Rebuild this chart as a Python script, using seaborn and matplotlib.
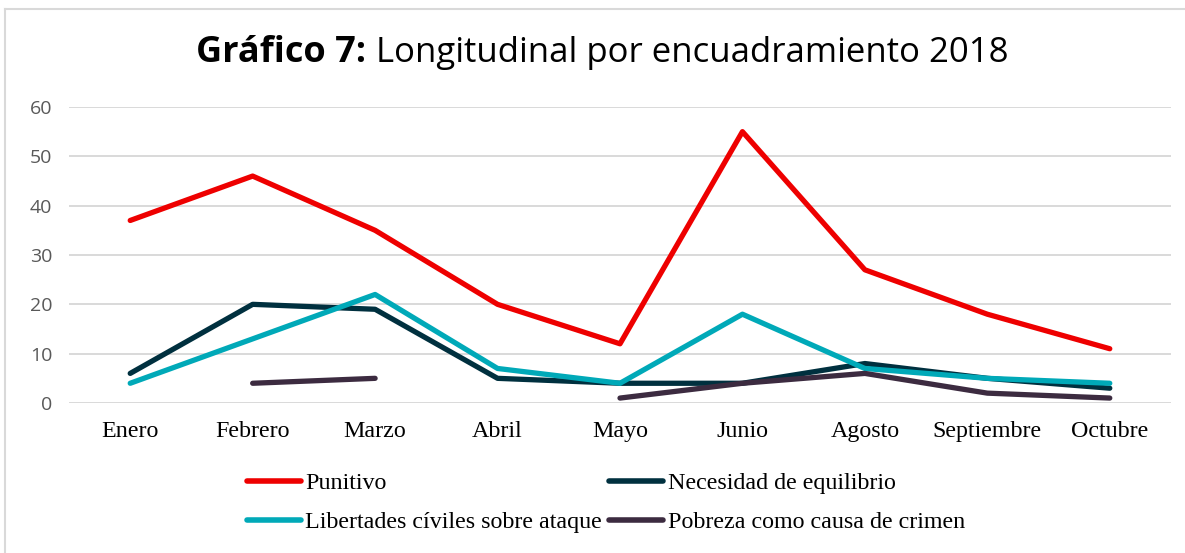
import numpy as np
import pandas as pd
import matplotlib
matplotlib.use("Agg")
import matplotlib.pyplot as plt
import seaborn as sns
from matplotlib.lines import Line2D

months = ["Enero", "Febrero", "Marzo", "Abril", "Mayo", "Junio", "Agosto", "Septiembre", "Octubre"]
series_names = ["Punitivo", "Necesidad de equilibrio", "Libertades cíviles sobre ataque", "Pobreza como causa de crimen"]
punitivo = [37, 46, 35, 20, 12, 55, 27, 18, 11]
necesidad = [6, 20, 19, 5, 4, 4, 8, 5, 3]
libertades = [4, 13, 22, 7, 4, 18, 7, 5, 4]
pobreza = [np.nan, 4, 5, np.nan, 1, 4, 6, 2, 1]
yticks = [0, 10, 20, 30, 40, 50, 60]
colors = ["#EE0000", "#00303F", "#00A9B8", "#3C2B40"]

# long-form table, with a segment id so gaps (NaN) break the line
rows = []
for name, vals in zip(series_names, [punitivo, necesidad, libertades, pobreza]):
    seg = 0
    for i, v in enumerate(vals):
        if np.isnan(v):
            seg += 1
            continue
        rows.append({"x": i, "y": v, "serie": name, "seg": f"{name}_{seg}"})
df = pd.DataFrame(rows)

W, H = 1185, 553
fig = plt.figure(figsize=(W / 100, H / 100), dpi=100)
ax = fig.add_axes([69 / W, 1 - 403 / H, (1171 - 69) / W, (403 - 107) / H])

sns.lineplot(data=df, x="x", y="y", hue="serie", units="seg", estimator=None,
             hue_order=series_names, palette=colors, linewidth=3.8, ax=ax,
             legend=False, solid_capstyle="round")

ax.set_xlim(-0.5, 8.5)
ax.set_ylim(0, 60)
ax.set_yticks(yticks)
ax.set_yticklabels([str(t) for t in yticks], fontfamily="Open Sans", fontsize=14, color="#595959")
ax.set_xticks(range(len(months)))
ax.set_xticklabels(months, fontfamily="Liberation Serif", fontsize=17.3, color="black")
ax.tick_params(axis="both", length=0)
ax.tick_params(axis="x", pad=13)
ax.tick_params(axis="y", pad=12)
ax.set_xlabel("")
ax.set_ylabel("")
for s in ax.spines.values():
    s.set_visible(False)
ax.set_axisbelow(True)
ax.yaxis.grid(True, color="#D9D9D9", linewidth=1.4)
ax.xaxis.grid(False)
ax.set_facecolor("none")

# title
t1 = fig.text(0.5, 1 - 53 / H, "Gráfico 7: ", fontfamily="Open Sans", fontweight="bold",
              fontsize=26, ha="left", va="center")
t2 = fig.text(0.5, 1 - 53 / H, "Longitudinal por encuadramiento 2018", fontfamily="Open Sans",
              fontsize=25, ha="left", va="center")
fig.canvas.draw()
r = fig.canvas.get_renderer()
w1 = t1.get_window_extent(r).width
w2 = t2.get_window_extent(r).width
start = (193 + 1012) / 2 - (w1 + w2) / 2
t1.set_x(start / W)
t2.set_x((start + w1) / W)

# legend
handles = [Line2D([], [], color=c, lw=4, solid_capstyle="round") for c in colors]
order = [0, 2, 1, 3]
leg = fig.legend([handles[i] for i in order], [series_names[i] for i in order],
                 ncol=2, loc="center", bbox_to_anchor=(606 / W, 1 - 503 / H),
                 frameon=False, prop={"family": "Liberation Serif", "size": 17.3},
                 handlelength=2.25, handletextpad=0.2, columnspacing=0.3, labelspacing=0.72)

# chart border (top and left)
fig.add_artist(Line2D([5 / W, 1], [1 - 9 / H, 1 - 9 / H], color="#D9D9D9", lw=1.5))
fig.add_artist(Line2D([5 / W, 5 / W], [0, 1 - 9 / H], color="#D9D9D9", lw=1.5))

fig.savefig("out.png", dpi=100)
